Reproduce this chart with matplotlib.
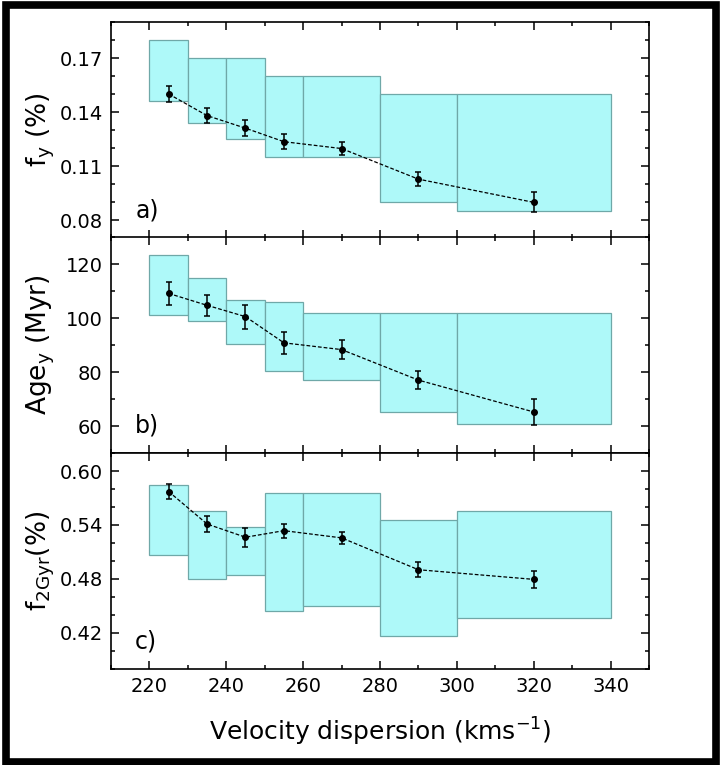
import matplotlib
matplotlib.use('Agg')
import matplotlib.pyplot as plt
from matplotlib.patches import Rectangle
from matplotlib.ticker import MultipleLocator, FormatStrFormatter

# velocity dispersion bins and bin centres
bin_lo = [220, 230, 240, 250, 260, 280, 300]
bin_hi = [230, 240, 250, 260, 280, 300, 340]
sigma = [225, 235, 245, 255, 270, 290, 320]

# panel a: young fraction
fy = [0.150, 0.138, 0.131, 0.1235, 0.1197, 0.1027, 0.0898]
fy_err = [0.0043, 0.0040, 0.0043, 0.0040, 0.0035, 0.0040, 0.0055]
fy_box_lo = [0.146, 0.134, 0.125, 0.115, 0.115, 0.090, 0.085]
fy_box_hi = [0.180, 0.170, 0.170, 0.160, 0.160, 0.150, 0.150]

# panel b: young age
age = [109.1, 104.7, 100.5, 90.8, 88.3, 77.0, 65.2]
age_err = [4.2, 4.0, 4.4, 4.0, 3.6, 3.3, 4.8]
age_box_lo = [101.2, 98.9, 90.5, 80.4, 77.2, 65.1, 60.6]
age_box_hi = [123.4, 114.7, 106.5, 106.1, 101.9, 101.9, 102.0]

# panel c: fraction younger than 2 Gyr
f2 = [0.5772, 0.5411, 0.5264, 0.5337, 0.5257, 0.4903, 0.4796]
f2_err = [0.0086, 0.0085, 0.0105, 0.0079, 0.0064, 0.0081, 0.0094]
f2_box_lo = [0.507, 0.480, 0.484, 0.445, 0.450, 0.417, 0.437]
f2_box_hi = [0.585, 0.556, 0.538, 0.576, 0.576, 0.546, 0.556]

plt.rcParams['font.family'] = 'DejaVu Sans'
plt.rcParams['mathtext.default'] = 'regular'

fig = plt.figure(figsize=(7.2, 7.65), dpi=100)

left, width = 111 / 720, 538 / 720
tops = [22, 237, 453]
h = 216 / 765

# (values, errors, box low, box high, ylim, major step, major offset, minor step, label, tag, format)
panels = [
    (fy, fy_err, fy_box_lo, fy_box_hi, (0.07, 0.19), 0.03, 0.02, 0.01, 'f$_{y}$ (%)', 'a)', '%.2f'),
    (age, age_err, age_box_lo, age_box_hi, (50, 130), 20, 0, 10, 'Age$_{y}$ (Myr)', 'b)', '%d'),
    (f2, f2_err, f2_box_lo, f2_box_hi, (0.38, 0.62), 0.06, 0, 0.02, 'f$_{2Gyr}$(%)', 'c)', '%.2f'),
]

axes = []
for i, (y, yerr, blo, bhi, ylim, major, off, minor, ylabel, tag, fmt) in enumerate(panels):
    ax = fig.add_axes([left, 1 - tops[i] / 765 - h, width, h])
    widths = [b - a for a, b in zip(bin_lo, bin_hi)]
    heights = [b - a for a, b in zip(blo, bhi)]
    ax.bar(bin_lo, heights, width=widths, bottom=blo, align='edge',
           color='#aef9f9', edgecolor='#6fa8a8', linewidth=0.9, zorder=1)
    ax.plot(sigma, y, ls=(0, (3, 1.6)), color='black', lw=0.9, zorder=2)
    ax.errorbar(sigma, y, yerr=yerr, fmt='o', color='black', ms=4,
                capsize=2.5, elinewidth=1.1, capthick=1.1, zorder=3)
    ax.set_xlim(210, 350)
    ax.set_ylim(*ylim)
    ax.xaxis.set_major_locator(MultipleLocator(20))
    ax.xaxis.set_minor_locator(MultipleLocator(10))
    ax.yaxis.set_major_locator(MultipleLocator(major, offset=off))
    ax.yaxis.set_minor_locator(MultipleLocator(minor))
    ax.yaxis.set_major_formatter(FormatStrFormatter(fmt))
    ax.tick_params(which='both', direction='in', top=True, right=True,
                   width=1.1, labelsize=14, pad=6)
    ax.tick_params(which='major', length=6)
    ax.tick_params(which='minor', length=3)
    for s in ax.spines.values():
        s.set_linewidth(1.2)
    ax.set_ylabel(ylabel, fontsize=19)
    ax.yaxis.set_label_coords(-0.10, 0.5)
    ax.text(0.045, 0.07, tag, transform=ax.transAxes, fontsize=17,
            ha='left', va='bottom')
    if i < 2:
        ax.tick_params(labelbottom=False)
    axes.append(ax)

axes[2].set_xlabel('Velocity dispersion (kms$^{-1}$)', fontsize=18, labelpad=14)

# thick outer frame
fig.patches.append(Rectangle((0.0083, 0.004), 0.986, 0.9895, transform=fig.transFigure,
                             fill=False, edgecolor='black', linewidth=5.5))

fig.savefig('out.png', dpi=100)
